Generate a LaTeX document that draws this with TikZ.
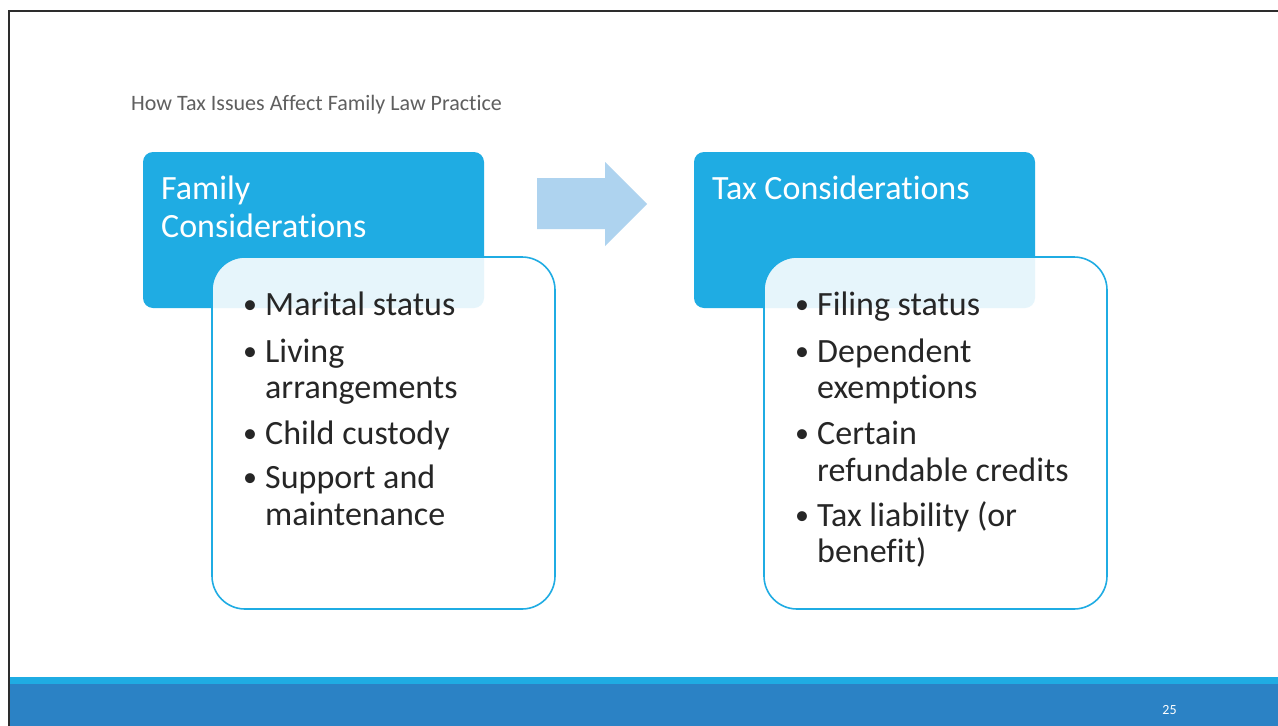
\documentclass[tikz,border=0pt]{standalone}
\usepackage{fontspec}
\setmainfont[Ligatures={NoCommon}]{Carlito}
\definecolor{hdrblue}{RGB}{31,172,227}
\definecolor{bandblue}{RGB}{43,130,197}
\definecolor{arrowblue}{RGB}{174,211,239}
\definecolor{txtdark}{RGB}{38,38,38}
\definecolor{titlegray}{RGB}{95,95,95}
\definecolor{framegray}{RGB}{45,45,45}
\begin{document}
\begin{tikzpicture}[x=1pt,y=-1pt,
  hdrbox/.style={draw=none, fill=hdrblue, rounded corners=10pt, minimum width=341pt, minimum height=156pt, inner sep=0pt, outer sep=0pt},
  listbox/.style={draw=hdrblue, line width=1.6pt, fill=white, fill opacity=0.89, draw opacity=1, rounded corners=33pt, minimum width=343pt, minimum height=352pt, inner sep=0pt},
  hdrtext/.style={anchor=base west, text=white, font=\fontsize{34}{37.5}\selectfont, inner sep=0pt},
  itemtext/.style={anchor=base west, text=txtdark, font=\fontsize{34}{36.5}\selectfont, inner sep=0pt},
  bullettext/.style={anchor=base west, text=txtdark, font=\fontsize{28}{30}\selectfont, inner sep=0pt},
  titletext/.style={anchor=base west, text=titlegray, font=\fontsize{22}{26}\selectfont, inner sep=0pt},
  pagenum/.style={anchor=center, text=white, font=\fontsize{14}{16}\selectfont, inner sep=0pt}
]
\useasboundingbox (0,0) rectangle (1278,726);
\fill[white] (0,0) rectangle (1278,726);
% frame lines
\draw[framegray, line width=2.6pt] (9,726) -- (9,11) -- (1278,11);
% bottom bands
\fill[hdrblue] (10.3,677) rectangle (1278,684);
\fill[bandblue] (10.3,684) rectangle (1278,726);
\node[pagenum] (pg) at (1169.5,710) {25};
% title
\node[titletext] (title) at (131,110) {How Tax Issues Affect Family Law Practice};
% header boxes
\node[hdrbox] (famhdr) at (313.5,230) {};
\node[hdrbox] (taxhdr) at (864.5,230) {};
\node[hdrtext] (famt1) at (161,199) {Family};
\node[hdrtext] (famt2) at (161,237) {Considerations};
\node[hdrtext] (taxt1) at (712,199) {Tax Considerations};
% arrow
\fill[arrowblue] (537,178) -- (605,178) -- (605,162) -- (647,204) -- (605,246) -- (605,229) -- (537,229) -- cycle;
% list boxes
\node[listbox] (famlist) at (383.5,433) {};
\node[listbox] (taxlist) at (935.5,433) {};
% left list
\node[bullettext] (fb1) at (243,313) {•};
\node[itemtext] (fi1) at (265,315) {Marital status};
\node[bullettext] (fb2) at (243,360) {•};
\node[itemtext] (fi2a) at (265,362) {Living};
\node[itemtext] (fi2b) at (265,398) {arrangements};
\node[bullettext] (fb3) at (243,442) {•};
\node[itemtext] (fi3) at (265,444) {Child custody};
\node[bullettext] (fb4) at (243,486) {•};
\node[itemtext] (fi4a) at (265,488) {Support and};
\node[itemtext] (fi4b) at (265,525) {maintenance};
% right list
\node[bullettext] (tb1) at (795,313) {•};
\node[itemtext] (ti1) at (817,315) {Filing status};
\node[bullettext] (tb2) at (795,360) {•};
\node[itemtext] (ti2a) at (817,362) {Dependent};
\node[itemtext] (ti2b) at (817,398) {exemptions};
\node[bullettext] (tb3) at (795,442) {•};
\node[itemtext] (ti3a) at (817,444) {Certain};
\node[itemtext] (ti3b) at (817,481) {refundable credits};
\node[bullettext] (tb4) at (795,524) {•};
\node[itemtext] (ti4a) at (817,526) {Tax liability (or};
\node[itemtext] (ti4b) at (817,562) {benefit)};
\end{tikzpicture}
\end{document}
